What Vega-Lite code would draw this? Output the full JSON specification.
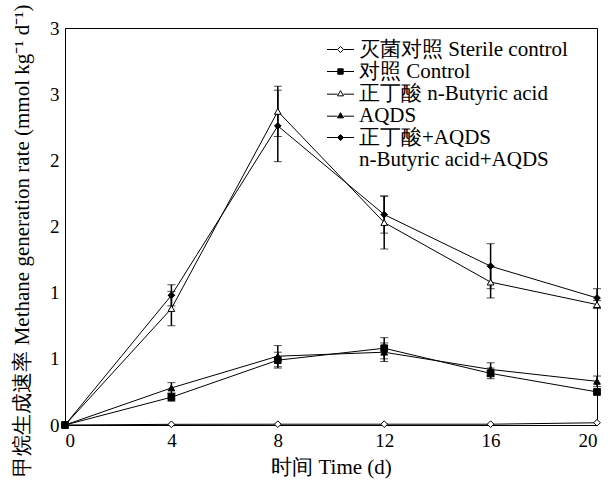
{
  "$schema": "https://vega.github.io/schema/vega-lite/v6.json",
  "width": 532,
  "height": 397,
  "autosize": "none",
  "padding": {"left": 65, "top": 28, "right": 13, "bottom": 63},
  "background": "white",
  "config": {
    "view": {"stroke": "black", "strokeWidth": 1},
    "font": "Liberation Serif",
    "axis": {"domainColor": "black", "grid": false, "ticks": false, "labelColor": "black", "titleColor": "black", "labelFont": "Liberation Serif", "titleFont": "Liberation Serif", "titleFontWeight": "normal"},
    "legend": {"labelFont": "Liberation Serif"}
  },
  "data": {
    "values": [
      {"series": "灭菌对照 Sterile control", "t": 0, "v": 0, "err": 0},
      {"series": "灭菌对照 Sterile control", "t": 4, "v": 0.005, "err": 0},
      {"series": "灭菌对照 Sterile control", "t": 8, "v": 0.006, "err": 0},
      {"series": "灭菌对照 Sterile control", "t": 12, "v": 0.006, "err": 0},
      {"series": "灭菌对照 Sterile control", "t": 16, "v": 0.006, "err": 0},
      {"series": "灭菌对照 Sterile control", "t": 20, "v": 0.017, "err": 0},
      {"series": "对照 Control", "t": 0, "v": 0, "err": 0},
      {"series": "对照 Control", "t": 4, "v": 0.21, "err": 0.03},
      {"series": "对照 Control", "t": 8, "v": 0.49, "err": 0.06},
      {"series": "对照 Control", "t": 12, "v": 0.58, "err": 0.08},
      {"series": "对照 Control", "t": 16, "v": 0.39, "err": 0.04},
      {"series": "对照 Control", "t": 20, "v": 0.25, "err": 0.02},
      {"series": "正丁酸 n-Butyric acid", "t": 0, "v": 0, "err": 0},
      {"series": "正丁酸 n-Butyric acid", "t": 4, "v": 0.88, "err": 0.13},
      {"series": "正丁酸 n-Butyric acid", "t": 8, "v": 2.37, "err": 0.19},
      {"series": "正丁酸 n-Butyric acid", "t": 12, "v": 1.53, "err": 0.2},
      {"series": "正丁酸 n-Butyric acid", "t": 16, "v": 1.08, "err": 0.12},
      {"series": "正丁酸 n-Butyric acid", "t": 20, "v": 0.91, "err": 0.03},
      {"series": "AQDS", "t": 0, "v": 0, "err": 0},
      {"series": "AQDS", "t": 4, "v": 0.28, "err": 0.04},
      {"series": "AQDS", "t": 8, "v": 0.52, "err": 0.08},
      {"series": "AQDS", "t": 12, "v": 0.55, "err": 0.07},
      {"series": "AQDS", "t": 16, "v": 0.42, "err": 0.05},
      {"series": "AQDS", "t": 20, "v": 0.33, "err": 0.04},
      {"series": "正丁酸+AQDS", "t": 0, "v": 0, "err": 0},
      {"series": "正丁酸+AQDS", "t": 4, "v": 0.98, "err": 0.08},
      {"series": "正丁酸+AQDS", "t": 8, "v": 2.26, "err": 0.27},
      {"series": "正丁酸+AQDS", "t": 12, "v": 1.59, "err": 0.14},
      {"series": "正丁酸+AQDS", "t": 16, "v": 1.2, "err": 0.17},
      {"series": "正丁酸+AQDS", "t": 20, "v": 0.96, "err": 0.07}
    ]
  },
  "encoding": {
    "x": {"field": "t", "type": "quantitative", "scale": {"domain": [0, 20], "nice": false},
      "axis": {"values": [0, 4, 8, 12, 16, 20], "labelFontSize": 19, "labelPadding": 6, "title": "时间 Time (d)", "titleFontSize": 21, "titlePadding": 6}},
    "y": {"field": "v", "type": "quantitative", "scale": {"domain": [0, 3], "nice": false},
      "axis": {"values": [0, 0.5, 1, 1.5, 2, 2.5, 3], "labelExpr": "'' + round(datum.value)", "labelFontSize": 19, "labelPadding": 6, "title": "甲烷生成速率 Methane generation rate (mmol kg⁻¹ d⁻¹)", "titleFontSize": 21, "titleX": -43, "titleY": 212, "titleAngle": -90, "titleAlign": "center", "titleBaseline": "middle"}}
  },
  "layer": [
    {
      "transform": [{"filter": "datum.err > 0"}],
      "mark": {"type": "errorbar", "ticks": {"size": 8, "color": "black", "strokeWidth": 1.5}, "rule": {"color": "black", "strokeWidth": 1.5}},
      "encoding": {
        "y": {"field": "v", "type": "quantitative"},
        "yError": {"field": "err"},
        "detail": {"field": "series"}
      }
    },
    {
      "mark": {"type": "line", "color": "black", "strokeWidth": 1},
      "encoding": {"detail": {"field": "series"}}
    },
    {
      "mark": {"type": "point", "filled": false, "stroke": "black", "strokeWidth": 1, "opacity": 1},
      "encoding": {
        "shape": {"field": "series", "type": "nominal", "legend": null,
          "scale": {"domain": ["灭菌对照 Sterile control", "对照 Control", "正丁酸 n-Butyric acid", "AQDS", "正丁酸+AQDS"], "range": ["diamond", "square", "triangle-up", "triangle-up", "diamond"]}},
        "fill": {"field": "series", "type": "nominal", "legend": null,
          "scale": {"domain": ["灭菌对照 Sterile control", "对照 Control", "正丁酸 n-Butyric acid", "AQDS", "正丁酸+AQDS"], "range": ["white", "black", "white", "black", "black"]}},
        "size": {"field": "series", "type": "nominal", "legend": null,
          "scale": {"domain": ["灭菌对照 Sterile control", "对照 Control", "正丁酸 n-Butyric acid", "AQDS", "正丁酸+AQDS"], "range": [45, 45, 60, 60, 60]}}
      }
    },
    {
      "transform": [{"filter": "datum.t < 0"}],
      "mark": {"type": "point", "filled": true, "strokeWidth": 1, "size": 182, "opacity": 1},
      "encoding": {
        "shape": {"field": "series", "type": "nominal",
          "scale": {"domain": ["灭菌对照 Sterile control", "对照 Control", "正丁酸 n-Butyric acid", "AQDS", "正丁酸+AQDS", "n-Butyric acid+AQDS"],
            "range": ["M-2,0H-0.45M0.45,0H2M0,-0.45L0.45,0L0,0.45L-0.45,0Z", "M-2,0H-0.4M0.4,0H2M-0.4,-0.4H0.4V0.4H-0.4Z", "M-2,0.1H-0.45M0.45,0.1H2M0,-0.42L0.45,0.35L-0.45,0.35Z", "M-2,0.1H-0.45M0.45,0.1H2M0,-0.42L0.45,0.35L-0.45,0.35Z", "M-2,0H-0.45M0.45,0H2M0,-0.45L0.45,0L0,0.45L-0.45,0Z", "M0,0"]},
          "legend": {"title": null, "orient": "none", "legendX": 265, "legendY": 11, "padding": 0, "labelFontSize": 21, "labelColor": "black", "labelOffset": 8, "rowPadding": 0, "symbolOpacity": 1, "symbolStrokeWidth": 1, "symbolSize": 182, "labelLimit": 400}},
        "fill": {"field": "series", "type": "nominal",
          "scale": {"domain": ["灭菌对照 Sterile control", "对照 Control", "正丁酸 n-Butyric acid", "AQDS", "正丁酸+AQDS", "n-Butyric acid+AQDS"], "range": ["white", "black", "white", "black", "black", "transparent"]},
          "legend": {"title": null, "orient": "none", "legendX": 265, "legendY": 11, "padding": 0, "labelFontSize": 21, "labelColor": "black", "labelOffset": 8, "rowPadding": 0, "symbolOpacity": 1, "symbolStrokeWidth": 1, "symbolSize": 182, "labelLimit": 400}},
        "stroke": {"field": "series", "type": "nominal",
          "scale": {"domain": ["灭菌对照 Sterile control", "对照 Control", "正丁酸 n-Butyric acid", "AQDS", "正丁酸+AQDS", "n-Butyric acid+AQDS"], "range": ["black", "black", "black", "black", "black", "transparent"]},
          "legend": {"title": null, "orient": "none", "legendX": 265, "legendY": 11, "padding": 0, "labelFontSize": 21, "labelColor": "black", "labelOffset": 8, "rowPadding": 0, "symbolOpacity": 1, "symbolStrokeWidth": 1, "symbolSize": 182, "labelLimit": 400}}
      }
    }
  ],
  "resolve": {"scale": {"shape": "independent", "fill": "independent", "size": "independent", "stroke": "independent"}}
}
